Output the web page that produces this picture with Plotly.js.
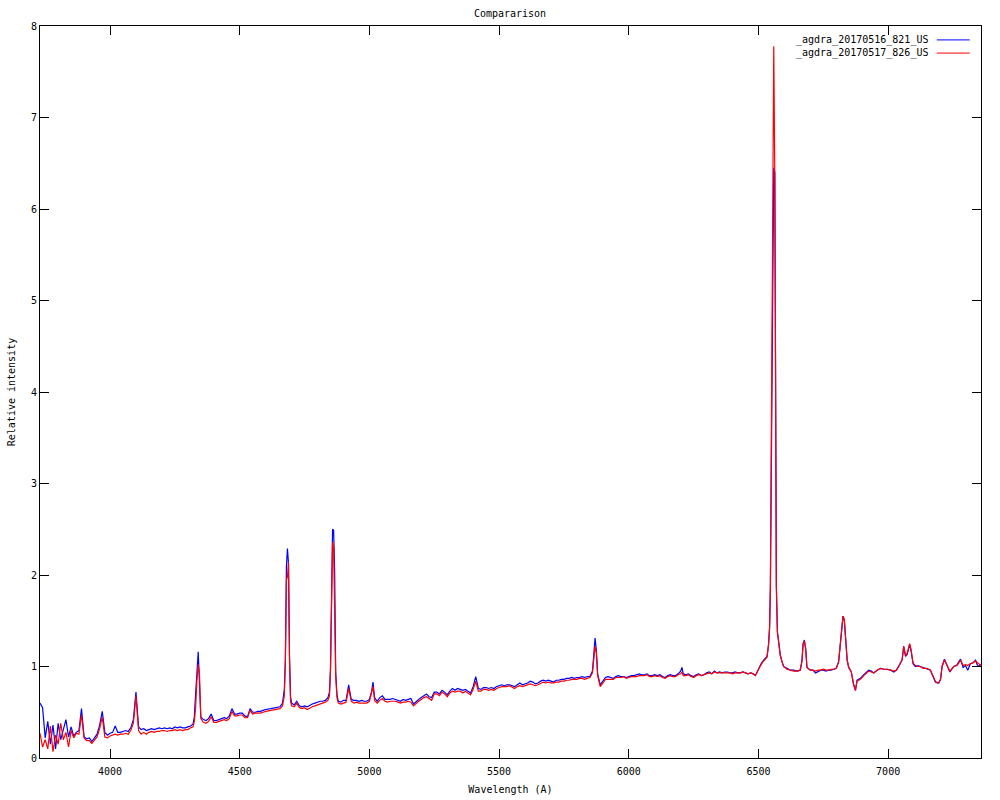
<!DOCTYPE html>
<html>
<head>
<meta charset="utf-8">
<script src="https://cdn.plot.ly/plotly-3.0.1.min.js"></script>
<style>html,body{margin:0;padding:0;background:#fff;}#chart{width:1000px;height:800px;}</style>
</head>
<body>
<div id="chart"></div>
<script>
var seriesNames = ["_agdra_20170516_821_US", "_agdra_20170517_826_US"];
var chartTitle = "Compararison";
var xLabel = "Wavelength (A)";
var yLabel = "Relative intensity";
var xTicks = [4000, 4500, 5000, 5500, 6000, 6500, 7000];
var yTicks = [0, 1, 2, 3, 4, 5, 6, 7, 8];

var wavelength = [
3730,3740,3750,3760,3770,3780,3790,3800,3810,3820,
3830,3840,3850,3860,3870,3880,3890,3900,3910,3920,
3930,3940,3950,3960,3970,3980,3990,4000,4010,4020,
4030,4040,4050,4060,4070,4080,4090,4100,4110,4120,
4130,4140,4150,4160,4170,4180,4190,4200,4210,4220,
4230,4240,4250,4260,4270,4280,4290,4300,4310,4320,
4325,4330,4335,4340,4345,4350,4360,4370,4380,4390,
4400,4410,4420,4430,4440,4450,4460,4470,4480,4490,
4500,4510,4520,4530,4540,4550,4560,4570,4580,4590,
4600,4620,4640,4655,4665,4672,4676,4680,4684,4688,
4692,4696,4700,4710,4720,4730,4740,4750,4760,4770,
4780,4790,4800,4810,4820,4830,4840,4846,4850,4854,
4858,4862,4866,4870,4875,4880,4890,4900,4910,4920,
4930,4940,4950,4960,4970,4980,4990,5000,5008,5014,
5020,5030,5040,5050,5060,5070,5080,5090,5100,5110,
5120,5130,5140,5150,5160,5170,5180,5190,5200,5210,
5220,5230,5240,5250,5260,5270,5280,5290,5300,5310,
5320,5330,5340,5350,5360,5370,5380,5390,5400,5410,
5420,5430,5440,5450,5460,5470,5480,5490,5500,5510,
5520,5530,5540,5550,5560,5570,5580,5590,5600,5610,
5620,5630,5640,5650,5660,5670,5680,5690,5700,5710,
5720,5730,5740,5750,5760,5770,5780,5790,5800,5810,
5820,5830,5840,5850,5860,5865,5870,5875,5880,5890,
5900,5910,5920,5930,5940,5950,5960,5970,5980,5990,
6000,6010,6020,6030,6040,6050,6060,6070,6080,6090,
6100,6110,6120,6130,6140,6150,6160,6170,6180,6190,
6200,6205,6210,6220,6230,6240,6250,6260,6270,6280,
6290,6300,6310,6320,6330,6340,6350,6360,6370,6380,
6390,6400,6410,6420,6430,6440,6450,6460,6470,6480,
6488,6500,6510,6520,6533,6539,6543,6546,6550,6555,
6559,6563,6566,6569,6573,6578,6584,6591,6597,6610,
6623,6636,6649,6661,6668,6672,6677,6682,6687,6700,
6710,6720,6730,6740,6750,6760,6770,6780,6790,6800,
6809,6816,6822,6826,6831,6836,6842,6848,6858,6867,
6874,6880,6893,6906,6915,6925,6935,6944,6958,6970,
6983,6996,7010,7022,7032,7041,7054,7060,7067,7073,
7083,7088,7096,7105,7115,7124,7135,7150,7163,7173,
7182,7190,7195,7202,7208,7217,7227,7238,7253,7266,
7279,7289,7298,7307,7317,7327,7337,7343,7349,7358
];

var blueSpec = [
.60,.55,.22,.40,.15,.36,.10,.38,.20,.30,
.42,.23,.34,.24,.28,.30,.54,.23,.21,.22,
.18,.22,.26,.36,.51,.28,.25,.27,.28,.35,
.28,.28,.29,.30,.29,.33,.42,.72,.34,.31,
.32,.30,.31,.32,.31,.32,.33,.32,.33,.32,
.33,.32,.34,.33,.34,.33,.33,.34,.35,.37,
.45,.70,.98,1.16,.80,.45,.42,.41,.43,.48,
.41,.41,.42,.43,.44,.43,.46,.54,.48,.48,
.49,.49,.46,.45,.54,.50,.50,.51,.51,.52,
.53,.54,.55,.56,.60,.75,1.07,2.09,2.29,2.13,
1.11,.67,.60,.58,.62,.57,.56,.57,.56,.58,
.59,.60,.61,.62,.62,.63,.66,.72,.98,1.76,
2.50,2.49,2.05,.94,.69,.62,.61,.63,.63,.80,
.64,.63,.63,.62,.63,.62,.62,.64,.72,.83,
.66,.62,.66,.68,.64,.64,.64,.65,.64,.63,
.62,.64,.63,.64,.65,.59,.62,.64,.66,.68,
.70,.67,.66,.72,.72,.70,.74,.72,.69,.73,
.76,.74,.76,.75,.74,.75,.73,.71,.78,.89,
.76,.75,.77,.77,.76,.77,.76,.78,.79,.80,
.79,.80,.80,.79,.78,.80,.82,.80,.81,.82,
.84,.83,.81,.82,.84,.85,.84,.85,.84,.83,
.85,.85,.86,.86,.87,.87,.88,.87,.88,.88,
.89,.88,.89,.89,.95,1.09,1.31,1.18,.92,.80,
.84,.88,.89,.88,.87,.89,.90,.89,.89,.88,
.89,.90,.90,.91,.92,.91,.91,.92,.90,.90,
.91,.90,.91,.89,.88,.90,.91,.90,.90,.92,
.95,.99,.92,.91,.92,.90,.89,.91,.92,.90,
.91,.93,.94,.92,.95,.93,.94,.93,.94,.94,
.93,.93,.94,.93,.93,.94,.93,.92,.93,.92,
.90,.98,1.03,1.07,1.11,1.24,1.44,1.88,3.38,5.95,
6.45,6.40,3.50,1.90,1.38,1.24,1.13,1.05,1.00,.98,
.96,.96,.95,.96,1.07,1.25,1.29,1.20,.99,.96,
.96,.93,.95,.96,.96,.95,.96,.96,.97,.98,
1.05,1.29,1.47,1.55,1.51,1.29,1.07,.99,.94,.80,
.74,.85,.87,.91,.93,.96,.95,.93,.96,.98,
.97,.97,.96,.94,.96,1.00,1.07,1.22,1.11,1.13,
1.24,1.18,1.03,1.00,1.01,1.00,.99,.97,.96,.89,
.83,.82,.82,.86,1.00,1.08,1.02,.94,1.00,1.02,
1.08,.99,1.01,.96,1.03,1.04,1.07,1.02,1.00,1.02
];

var redSpec = [
.27,.12,.20,.10,.35,.07,.25,.15,.38,.20,
.28,.12,.30,.22,.27,.26,.47,.22,.19,.19,
.16,.20,.23,.32,.45,.23,.22,.24,.25,.26,
.25,.26,.26,.27,.26,.30,.38,.68,.30,.26,
.28,.26,.28,.29,.28,.29,.29,.30,.30,.29,
.30,.30,.31,.30,.31,.30,.31,.31,.33,.34,
.40,.55,.85,1.02,.92,.43,.39,.38,.40,.45,
.39,.39,.40,.41,.42,.41,.43,.51,.46,.46,
.47,.47,.44,.44,.52,.48,.49,.49,.49,.50,
.51,.52,.53,.54,.57,.68,1.05,1.94,1.98,2.14,
1.05,.62,.57,.56,.60,.55,.54,.55,.53,.55,
.56,.57,.58,.59,.60,.61,.63,.68,.95,1.65,
2.36,2.30,1.78,.90,.66,.60,.59,.60,.61,.76,
.62,.60,.61,.60,.60,.60,.60,.62,.70,.78,
.63,.60,.63,.65,.62,.61,.62,.62,.62,.61,
.60,.61,.61,.62,.61,.57,.60,.62,.64,.66,
.67,.65,.63,.70,.70,.68,.72,.70,.67,.71,
.73,.72,.73,.73,.71,.73,.71,.69,.75,.84,
.73,.73,.75,.75,.74,.75,.74,.76,.77,.78,
.78,.78,.79,.77,.76,.78,.79,.78,.79,.80,
.81,.80,.79,.80,.82,.83,.82,.83,.82,.82,
.83,.83,.84,.84,.85,.85,.86,.86,.86,.87,
.87,.86,.87,.88,.93,1.05,1.22,1.15,.90,.78,
.82,.86,.86,.86,.86,.88,.88,.88,.89,.87,
.88,.89,.89,.89,.90,.90,.90,.91,.89,.89,
.90,.89,.90,.88,.87,.89,.90,.89,.89,.91,
.92,.94,.90,.90,.91,.89,.88,.90,.91,.90,
.91,.92,.93,.92,.94,.93,.93,.93,.93,.93,
.93,.92,.93,.93,.93,.94,.93,.92,.93,.92,
.90,.97,1.02,1.06,1.10,1.24,1.42,1.85,3.40,6.10,
7.78,6.35,3.35,1.85,1.38,1.24,1.12,1.05,1.00,.97,
.96,.95,.95,.96,1.06,1.24,1.28,1.19,.99,.96,
.96,.95,.96,.96,.97,.96,.96,.97,.97,.98,
1.05,1.29,1.47,1.55,1.51,1.29,1.07,.99,.94,.80,
.74,.84,.86,.90,.92,.95,.94,.93,.96,.98,
.97,.97,.96,.95,.96,1.00,1.08,1.22,1.12,1.14,
1.25,1.19,1.04,1.01,1.00,1.00,.98,.98,.96,.90,
.84,.82,.82,.86,1.00,1.07,1.02,.95,1.00,1.01,
1.07,1.01,1.02,1.01,1.03,1.04,1.06,1.04,1.03,1.01
];

var seriesColors = ["#0000ff", "#ff0000"];
var monoFont = "DejaVu Sans Mono, Liberation Mono, monospace";

var traces = [
  {x: wavelength, y: blueSpec, type: "scatter", mode: "lines", name: seriesNames[0],
   line: {color: seriesColors[0], width: 1.2}, hoverinfo: "skip"},
  {x: wavelength, y: redSpec, type: "scatter", mode: "lines", name: seriesNames[1],
   line: {color: seriesColors[1], width: 1.2}, hoverinfo: "skip"}
];

// legend drawn gnuplot-style: text right-aligned, line sample to the right
var legendRows = [0.981, 0.963];
var annotations = [];
var shapes = [];
for (var i = 0; i < seriesNames.length; i++) {
  annotations.push({xref: "paper", yref: "paper", x: 0.946, y: legendRows[i],
    xanchor: "right", yanchor: "middle", showarrow: false, text: seriesNames[i],
    font: {family: monoFont, size: 10, color: "#000"}});
  shapes.push({type: "line", xref: "paper", yref: "paper", x0: 0.953, x1: 0.988,
    y0: legendRows[i], y1: legendRows[i], line: {color: seriesColors[i], width: 1}});
}

var axisCommon = {
  showgrid: false, zeroline: false, showline: true, linecolor: "#000", linewidth: 1,
  mirror: "ticks", ticks: "inside", ticklen: 9, tickwidth: 1, tickcolor: "#000",
  tickfont: {family: monoFont, size: 10, color: "#000"}
};

var layout = {
  width: 1000, height: 800,
  paper_bgcolor: "#fff", plot_bgcolor: "#fff",
  margin: {l: 40, r: 19, t: 26, b: 42},
  showlegend: false,
  hovermode: false,
  title: {text: chartTitle, x: 0.51, xanchor: "center", y: 0.983, yanchor: "middle",
          font: {family: monoFont, size: 10, color: "#000"}},
  xaxis: Object.assign({}, axisCommon, {
    range: [3730, 7358], tickvals: xTicks, ticktext: xTicks.map(String),
    ticklabelstandoff: 4,
    title: {text: xLabel, standoff: 9, font: {family: monoFont, size: 10, color: "#000"}}
  }),
  yaxis: Object.assign({}, axisCommon, {
    range: [0, 8], tickvals: yTicks, ticktext: yTicks.map(String),
    title: {text: yLabel, standoff: 13, font: {family: monoFont, size: 10, color: "#000"}}
  }),
  annotations: annotations,
  shapes: shapes
};

Plotly.newPlot("chart", traces, layout, {displayModeBar: false, staticPlot: true});
</script>
</body>
</html>
